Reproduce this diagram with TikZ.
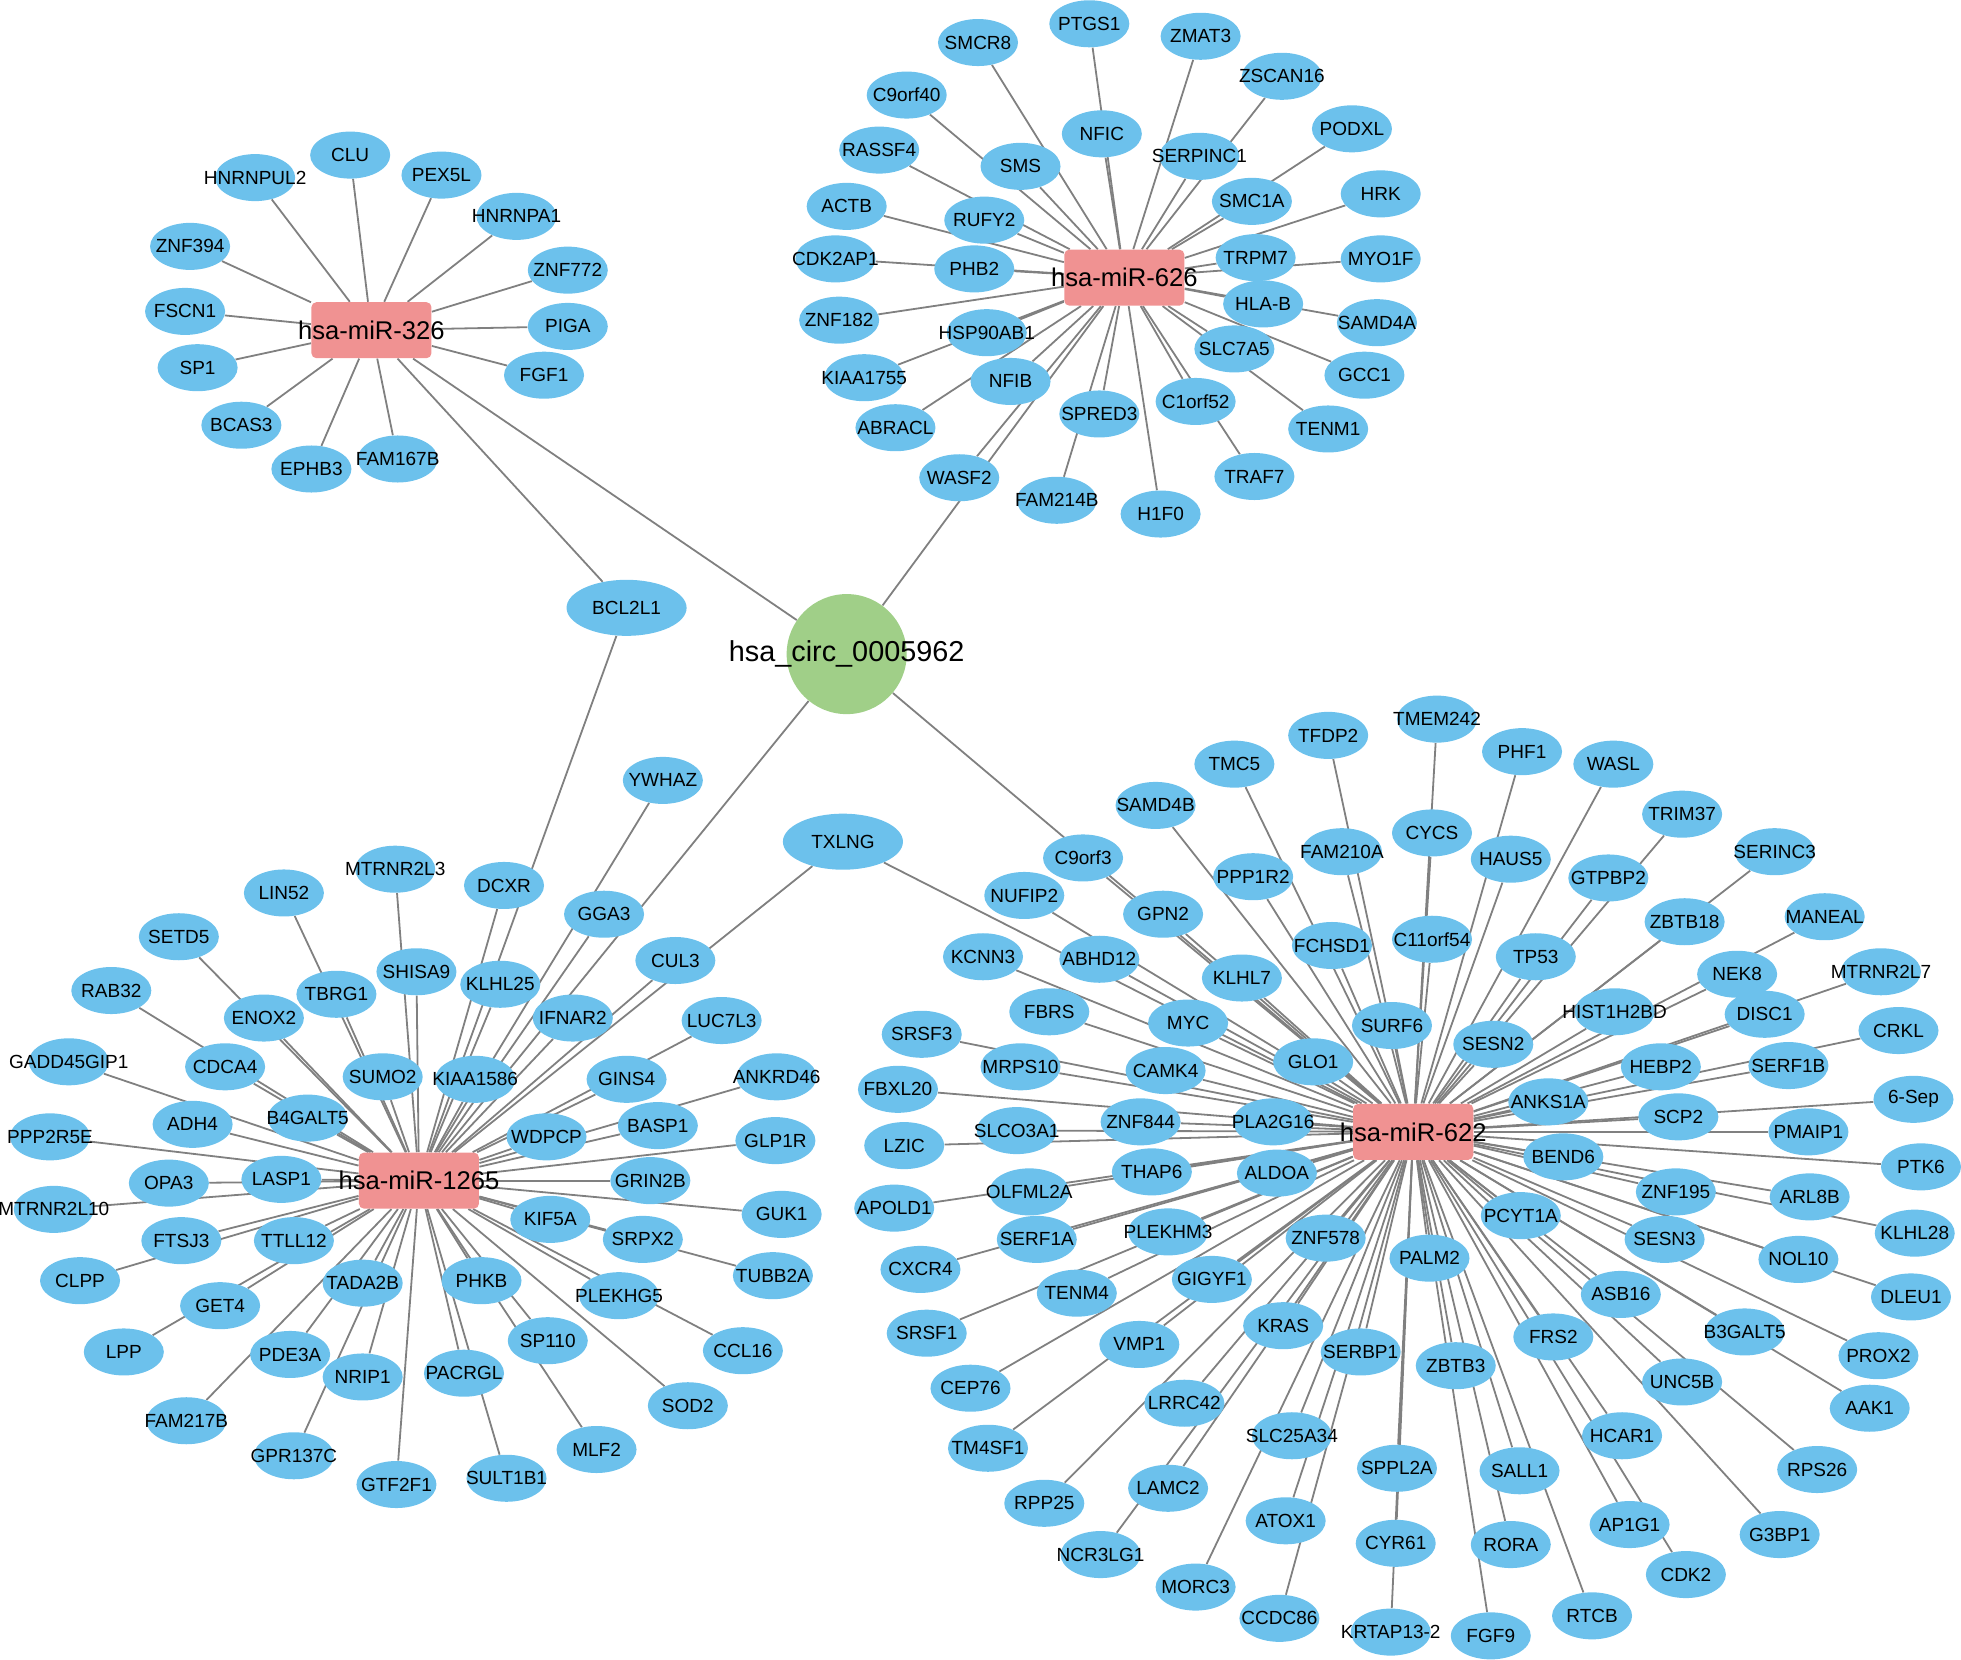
\documentclass[tikz,border=0pt]{standalone}
\usepackage{fontspec}
\setmainfont{Liberation Sans}
\usetikzlibrary{shapes.geometric,backgrounds}

\definecolor{genecol}{RGB}{108,193,236}
\definecolor{mircol}{RGB}{240,146,146}
\definecolor{circcol}{RGB}{160,207,136}
\definecolor{edgecol}{RGB}{128,128,128}

\tikzset{
  nowidth/.style={execute at begin node={\hbox to 0pt\bgroup\hss},
                  execute at end node={\hss\egroup}},
  gene/.style={ellipse,fill=genecol,inner sep=0pt,minimum width=40pt,
               minimum height=23.5pt,font=\fontsize{9.5}{11}\selectfont,nowidth},
  biggene/.style={gene,minimum width=60pt,minimum height=28pt},
  mirna/.style={rectangle,rounded corners=2.5pt,fill=mircol,inner sep=0pt,
                minimum width=60pt,minimum height=28pt,
                font=\fontsize{12.8}{14}\selectfont,nowidth},
  circrna/.style={circle,fill=circcol,inner sep=0pt,minimum size=60pt,
                  font=\fontsize{14.4}{16}\selectfont,nowidth},
  link/.style={draw=edgecol,line width=0.9pt}
}

\begin{document}
\begin{tikzpicture}[x=0.625pt,y=-0.625pt]

 \useasboundingbox (0,0) rectangle (1568,1327);

 \node[circrna] (circ) at (677,523) {hsa\_circ\_0005962};

 % hsa-miR-326
 \node[mirna] (m326) at (297,264) {hsa-miR-326};
 \node[gene] (CLU) at (280,124) {CLU};
 \node[gene] (HNRNPUL2) at (204,142) {HNRNPUL2};
 \node[gene] (PEX5L) at (353,140) {PEX5L};
 \node[gene] (HNRNPA1) at (413,173) {HNRNPA1};
 \node[gene] (ZNF394) at (152,197) {ZNF394};
 \node[gene] (ZNF772) at (454,216) {ZNF772};
 \node[gene] (FSCN1) at (148,249) {FSCN1};
 \node[gene] (PIGA) at (454,261) {PIGA};
 \node[gene] (SP1) at (158,294) {SP1};
 \node[gene] (FGF1) at (435,300) {FGF1};
 \node[gene] (BCAS3) at (193,340) {BCAS3};
 \node[gene] (EPHB3) at (249,375) {EPHB3};
 \node[gene] (FAM167B) at (318,367) {FAM167B};
 \node[biggene] (BCL2L1) at (501,486) {BCL2L1};

 % hsa-miR-626
 \node[mirna] (m626) at (899,222) {hsa-miR-626};
 \node[gene] (PTGS1) at (871,19) {PTGS1};
 \node[gene] (SMCR8) at (782,34) {SMCR8};
 \node[gene] (ZMAT3) at (960,29) {ZMAT3};
 \node[gene] (ZSCAN16) at (1025,61) {ZSCAN16};
 \node[gene] (C9orf40) at (725,76) {C9orf40};
 \node[gene] (PODXL) at (1081,103) {PODXL};
 \node[gene] (NFIC) at (881,107) {NFIC};
 \node[gene] (RASSF4) at (703,120) {RASSF4};
 \node[gene] (SMS) at (816,133) {SMS};
 \node[gene] (SERPINC1) at (959,125) {SERPINC1};
 \node[gene] (HRK) at (1104,155) {HRK};
 \node[gene] (SMC1A) at (1001,161) {SMC1A};
 \node[gene] (ACTB) at (677,165) {ACTB};
 \node[gene] (RUFY2) at (787,176) {RUFY2};
 \node[gene] (CDK2AP1) at (668,207) {CDK2AP1};
 \node[gene] (PHB2) at (779,215) {PHB2};
 \node[gene] (TRPM7) at (1004,206) {TRPM7};
 \node[gene] (MYO1F) at (1104,207) {MYO1F};
 \node[gene] (HLAB) at (1010,243) {HLA-B};
 \node[gene] (SAMD4A) at (1101,258) {SAMD4A};
 \node[gene] (ZNF182) at (671,256) {ZNF182};
 \node[gene] (HSP90AB1) at (789,266) {HSP90AB1};
 \node[gene] (SLC7A5) at (987,279) {SLC7A5};
 \node[gene] (GCC1) at (1091,300) {GCC1};
 \node[gene] (KIAA1755) at (691,302) {KIAA1755};
 \node[gene] (NFIB) at (808,305) {NFIB};
 \node[gene] (C1orf52) at (956,321) {C1orf52};
 \node[gene] (SPRED3) at (879,331) {SPRED3};
 \node[gene] (TENM1) at (1062,343) {TENM1};
 \node[gene] (ABRACL) at (716,342) {ABRACL};
 \node[gene] (TRAF7) at (1003,381) {TRAF7};
 \node[gene] (WASF2) at (767,382) {WASF2};
 \node[gene] (FAM214B) at (845,400) {FAM214B};
 \node[gene] (H1F0) at (928,411) {H1F0};

 % hsa-miR-1265
 \node[mirna] (m1265) at (335,944) {hsa-miR-1265};
 \node[gene] (LIN52) at (227,714) {LIN52};
 \node[gene] (MTRNR2L3) at (316,695) {MTRNR2L3};
 \node[gene] (SETD5) at (143,749) {SETD5};
 \node[gene] (SHISA9) at (333,777) {SHISA9};
 \node[gene] (RAB32) at (89,792) {RAB32};
 \node[gene] (TBRG1) at (269,795) {TBRG1};
 \node[gene] (ENOX2) at (211,814) {ENOX2};
 \node[gene] (GADD45GIP1) at (55,849) {GADD45GIP1};
 \node[gene] (CDCA4) at (180,853) {CDCA4};
 \node[gene] (SUMO2) at (306,861) {SUMO2};
 \node[gene] (ADH4) at (154,899) {ADH4};
 \node[gene] (B4GALT5) at (246,894) {B4GALT5};
 \node[gene] (PPP2R5E) at (40,909) {PPP2R5E};
 \node[gene] (OPA3) at (135,946) {OPA3};
 \node[gene] (LASP1) at (225,943) {LASP1};
 \node[gene] (MTRNR2L10) at (43,967) {MTRNR2L10};
 \node[gene] (FTSJ3) at (145,992) {FTSJ3};
 \node[gene] (TTLL12) at (235,992) {TTLL12};
 \node[gene] (CLPP) at (64,1024) {CLPP};
 \node[gene] (TADA2B) at (290,1026) {TADA2B};
 \node[gene] (GET4) at (176,1044) {GET4};
 \node[gene] (LPP) at (99,1081) {LPP};
 \node[gene] (PDE3A) at (232,1083) {PDE3A};
 \node[gene] (NRIP1) at (290,1101) {NRIP1};
 \node[gene] (PACRGL) at (371,1098) {PACRGL};
 \node[gene] (FAM217B) at (149,1136) {FAM217B};
 \node[gene] (GPR137C) at (235,1164) {GPR137C};
 \node[gene] (GTF2F1) at (317,1187) {GTF2F1};
 \node[gene] (DCXR) at (403,708) {DCXR};
 \node[gene] (GGA3) at (483,731) {GGA3};
 \node[gene] (CUL3) at (540,768) {CUL3};
 \node[gene] (KLHL25) at (400,787) {KLHL25};
 \node[gene] (IFNAR2) at (458,814) {IFNAR2};
 \node[gene] (LUC7L3) at (577,816) {LUC7L3};
 \node[gene] (KIAA1586) at (380,863) {KIAA1586};
 \node[gene] (GINS4) at (501,863) {GINS4};
 \node[gene] (ANKRD46) at (621,861) {ANKRD46};
 \node[gene] (WDPCP) at (437,909) {WDPCP};
 \node[gene] (BASP1) at (526,900) {BASP1};
 \node[gene] (GLP1R) at (620,912) {GLP1R};
 \node[gene] (GRIN2B) at (520,944) {GRIN2B};
 \node[gene] (KIF5A) at (440,975) {KIF5A};
 \node[gene] (GUK1) at (625,971) {GUK1};
 \node[gene] (SRPX2) at (514,991) {SRPX2};
 \node[gene] (TUBB2A) at (618,1020) {TUBB2A};
 \node[gene] (PHKB) at (385,1024) {PHKB};
 \node[gene] (PLEKHG5) at (495,1036) {PLEKHG5};
 \node[gene] (SP110) at (438,1072) {SP110};
 \node[gene] (CCL16) at (594,1080) {CCL16};
 \node[gene] (SOD2) at (550,1124) {SOD2};
 \node[gene] (MLF2) at (477,1159) {MLF2};
 \node[gene] (SULT1B1) at (405,1182) {SULT1B1};
 \node[gene] (YWHAZ) at (530,624) {YWHAZ};
 \node[biggene] (TXLNG) at (674,673) {TXLNG};

 % hsa-miR-622
 \node[mirna] (m622) at (1130,905) {hsa-miR-622};
 \node[gene] (TFDP2) at (1062,588) {TFDP2};
 \node[gene] (TMC5) at (987,611) {TMC5};
 \node[gene] (SAMD4B) at (924,644) {SAMD4B};
 \node[gene] (C9orf3) at (866,686) {C9orf3};
 \node[gene] (FAM210A) at (1073,681) {FAM210A};
 \node[gene] (PPP1R2) at (1002,701) {PPP1R2};
 \node[gene] (NUFIP2) at (819,716) {NUFIP2};
 \node[gene] (GPN2) at (930,731) {GPN2};
 \node[gene] (FCHSD1) at (1065,756) {FCHSD1};
 \node[gene] (KCNN3) at (786,765) {KCNN3};
 \node[gene] (ABHD12) at (879,767) {ABHD12};
 \node[gene] (KLHL7) at (993,782) {KLHL7};
 \node[gene] (FBRS) at (839,809) {FBRS};
 \node[gene] (MYC) at (950,818) {MYC};
 \node[gene] (SURF6) at (1113,820) {SURF6};
 \node[gene] (SRSF3) at (737,827) {SRSF3};
 \node[gene] (GLO1) at (1050,849) {GLO1};
 \node[gene] (MRPS10) at (816,853) {MRPS10};
 \node[gene] (CAMK4) at (932,856) {CAMK4};
 \node[gene] (FBXL20) at (718,871) {FBXL20};
 \node[gene] (ZNF844) at (912,897) {ZNF844};
 \node[gene] (PLA2G16) at (1018,897) {PLA2G16};
 \node[gene] (SLCO3A1) at (813,904) {SLCO3A1};
 \node[gene] (LZIC) at (723,916) {LZIC};
 \node[gene] (TMEM242) at (1149,575) {TMEM242};
 \node[gene] (PHF1) at (1217,601) {PHF1};
 \node[gene] (WASL) at (1290,611) {WASL};
 \node[gene] (TRIM37) at (1345,651) {TRIM37};
 \node[gene] (CYCS) at (1145,666) {CYCS};
 \node[gene] (HAUS5) at (1208,687) {HAUS5};
 \node[gene] (SERINC3) at (1419,681) {SERINC3};
 \node[gene] (GTPBP2) at (1286,702) {GTPBP2};
 \node[gene] (ZBTB18) at (1347,737) {ZBTB18};
 \node[gene] (MANEAL) at (1459,733) {MANEAL};
 \node[gene] (C11orf54) at (1145,751) {C11orf54};
 \node[gene] (TP53) at (1228,765) {TP53};
 \node[gene] (NEK8) at (1389,779) {NEK8};
 \node[gene] (MTRNR2L7) at (1504,777) {MTRNR2L7};
 \node[gene] (HIST1H2BD) at (1291,809) {HIST1H2BD};
 \node[gene] (DISC1) at (1411,811) {DISC1};
 \node[gene] (CRKL) at (1518,824) {CRKL};
 \node[gene] (SESN2) at (1194,835) {SESN2};
 \node[gene] (HEBP2) at (1328,853) {HEBP2};
 \node[gene] (SERF1B) at (1430,852) {SERF1B};
 \node[gene] (ANKS1A) at (1238,881) {ANKS1A};
 \node[gene] (Sep6) at (1530,879) {6-Sep};
 \node[gene] (SCP2) at (1342,893) {SCP2};
 \node[gene] (PMAIP1) at (1446,905) {PMAIP1};
 \node[gene] (PTK6) at (1536,933) {PTK6};
 \node[gene] (BEND6) at (1250,925) {BEND6};
 \node[gene] (ZNF195) at (1340,953) {ZNF195};
 \node[gene] (ARL8B) at (1447,957) {ARL8B};
 \node[gene] (PCYT1A) at (1216,972) {PCYT1A};
 \node[gene] (KLHL28) at (1531,986) {KLHL28};
 \node[gene] (SESN3) at (1331,991) {SESN3};
 \node[gene] (PALM2) at (1143,1006) {PALM2};
 \node[gene] (NOL10) at (1438,1007) {NOL10};
 \node[gene] (ASB16) at (1296,1035) {ASB16};
 \node[gene] (DLEU1) at (1528,1037) {DLEU1};
 \node[gene] (B3GALT5) at (1395,1065) {B3GALT5};
 \node[gene] (FRS2) at (1242,1069) {FRS2};
 \node[gene] (PROX2) at (1502,1084) {PROX2};
 \node[gene] (ZBTB3) at (1164,1092) {ZBTB3};
 \node[gene] (UNC5B) at (1345,1105) {UNC5B};
 \node[gene] (AAK1) at (1495,1126) {AAK1};
 \node[gene] (HCAR1) at (1297,1148) {HCAR1};
 \node[gene] (SALL1) at (1215,1176) {SALL1};
 \node[gene] (RPS26) at (1453,1175) {RPS26};
 \node[gene] (AP1G1) at (1303,1219) {AP1G1};
 \node[gene] (G3BP1) at (1423,1227) {G3BP1};
 \node[gene] (CYR61) at (1116,1234) {CYR61};
 \node[gene] (RORA) at (1208,1235) {RORA};
 \node[gene] (CDK2) at (1348,1259) {CDK2};
 \node[gene] (RTCB) at (1273,1292) {RTCB};
 \node[gene] (KRTAP132) at (1112,1305) {KRTAP13-2};
 \node[gene] (FGF9) at (1192,1308) {FGF9};
 \node[gene] (THAP6) at (921,937) {THAP6};
 \node[gene] (ALDOA) at (1021,938) {ALDOA};
 \node[gene] (OLFML2A) at (823,953) {OLFML2A};
 \node[gene] (APOLD1) at (715,966) {APOLD1};
 \node[gene] (PLEKHM3) at (934,985) {PLEKHM3};
 \node[gene] (ZNF578) at (1060,990) {ZNF578};
 \node[gene] (SERF1A) at (829,991) {SERF1A};
 \node[gene] (CXCR4) at (736,1015) {CXCR4};
 \node[gene] (GIGYF1) at (969,1023) {GIGYF1};
 \node[gene] (TENM4) at (861,1034) {TENM4};
 \node[gene] (KRAS) at (1026,1060) {KRAS};
 \node[gene] (SRSF1) at (741,1066) {SRSF1};
 \node[gene] (VMP1) at (911,1075) {VMP1};
 \node[gene] (SERBP1) at (1088,1081) {SERBP1};
 \node[gene] (CEP76) at (776,1110) {CEP76};
 \node[gene] (LRRC42) at (947,1122) {LRRC42};
 \node[gene] (SLC25A34) at (1033,1148) {SLC25A34};
 \node[gene] (TM4SF1) at (790,1158) {TM4SF1};
 \node[gene] (SPPL2A) at (1117,1174) {SPPL2A};
 \node[gene] (LAMC2) at (934,1190) {LAMC2};
 \node[gene] (RPP25) at (835,1202) {RPP25};
 \node[gene] (ATOX1) at (1028,1216) {ATOX1};
 \node[gene] (NCR3LG1) at (880,1243) {NCR3LG1};
 \node[gene] (MORC3) at (956,1269) {MORC3};
 \node[gene] (CCDC86) at (1023,1294) {CCDC86};

 \begin{scope}[on background layer]

  \draw[link] (circ) -- (m326);
  \draw[link] (circ) -- (m626);
  \draw[link] (circ) -- (m1265);
  \draw[link] (circ) -- (m622);

  \draw[link] (m326) -- (CLU);
  \draw[link] (m326) -- (HNRNPUL2);
  \draw[link] (m326) -- (PEX5L);
  \draw[link] (m326) -- (HNRNPA1);
  \draw[link] (m326) -- (ZNF394);
  \draw[link] (m326) -- (ZNF772);
  \draw[link] (m326) -- (FSCN1);
  \draw[link] (m326) -- (PIGA);
  \draw[link] (m326) -- (SP1);
  \draw[link] (m326) -- (FGF1);
  \draw[link] (m326) -- (BCAS3);
  \draw[link] (m326) -- (EPHB3);
  \draw[link] (m326) -- (FAM167B);
  \draw[link] (m326) -- (BCL2L1);

  \draw[link] (m626) -- (PTGS1);
  \draw[link] (m626) -- (SMCR8);
  \draw[link] (m626) -- (ZMAT3);
  \draw[link] (m626) -- (ZSCAN16);
  \draw[link] (m626) -- (C9orf40);
  \draw[link] (m626) -- (PODXL);
  \draw[link] (m626) -- (NFIC);
  \draw[link] (m626) -- (RASSF4);
  \draw[link] (m626) -- (SMS);
  \draw[link] (m626) -- (SERPINC1);
  \draw[link] (m626) -- (HRK);
  \draw[link] (m626) -- (SMC1A);
  \draw[link] (m626) -- (ACTB);
  \draw[link] (m626) -- (RUFY2);
  \draw[link] (m626) -- (CDK2AP1);
  \draw[link] (m626) -- (PHB2);
  \draw[link] (m626) -- (TRPM7);
  \draw[link] (m626) -- (MYO1F);
  \draw[link] (m626) -- (HLAB);
  \draw[link] (m626) -- (SAMD4A);
  \draw[link] (m626) -- (ZNF182);
  \draw[link] (m626) -- (HSP90AB1);
  \draw[link] (m626) -- (SLC7A5);
  \draw[link] (m626) -- (GCC1);
  \draw[link] (m626) -- (KIAA1755);
  \draw[link] (m626) -- (NFIB);
  \draw[link] (m626) -- (C1orf52);
  \draw[link] (m626) -- (SPRED3);
  \draw[link] (m626) -- (TENM1);
  \draw[link] (m626) -- (ABRACL);
  \draw[link] (m626) -- (TRAF7);
  \draw[link] (m626) -- (WASF2);
  \draw[link] (m626) -- (FAM214B);
  \draw[link] (m626) -- (H1F0);

  \draw[link] (m1265) -- (BCL2L1);
  \draw[link] (m1265) -- (YWHAZ);
  \draw[link] (m1265) -- (TXLNG);
  \draw[link] (m1265) -- (LIN52);
  \draw[link] (m1265) -- (MTRNR2L3);
  \draw[link] (m1265) -- (SETD5);
  \draw[link] (m1265) -- (SHISA9);
  \draw[link] (m1265) -- (RAB32);
  \draw[link] (m1265) -- (TBRG1);
  \draw[link] (m1265) -- (ENOX2);
  \draw[link] (m1265) -- (GADD45GIP1);
  \draw[link] (m1265) -- (CDCA4);
  \draw[link] (m1265) -- (SUMO2);
  \draw[link] (m1265) -- (ADH4);
  \draw[link] (m1265) -- (B4GALT5);
  \draw[link] (m1265) -- (PPP2R5E);
  \draw[link] (m1265) -- (OPA3);
  \draw[link] (m1265) -- (LASP1);
  \draw[link] (m1265) -- (MTRNR2L10);
  \draw[link] (m1265) -- (FTSJ3);
  \draw[link] (m1265) -- (TTLL12);
  \draw[link] (m1265) -- (CLPP);
  \draw[link] (m1265) -- (TADA2B);
  \draw[link] (m1265) -- (GET4);
  \draw[link] (m1265) -- (LPP);
  \draw[link] (m1265) -- (PDE3A);
  \draw[link] (m1265) -- (NRIP1);
  \draw[link] (m1265) -- (PACRGL);
  \draw[link] (m1265) -- (FAM217B);
  \draw[link] (m1265) -- (GPR137C);
  \draw[link] (m1265) -- (GTF2F1);
  \draw[link] (m1265) -- (DCXR);
  \draw[link] (m1265) -- (GGA3);
  \draw[link] (m1265) -- (CUL3);
  \draw[link] (m1265) -- (KLHL25);
  \draw[link] (m1265) -- (IFNAR2);
  \draw[link] (m1265) -- (LUC7L3);
  \draw[link] (m1265) -- (KIAA1586);
  \draw[link] (m1265) -- (GINS4);
  \draw[link] (m1265) -- (ANKRD46);
  \draw[link] (m1265) -- (WDPCP);
  \draw[link] (m1265) -- (BASP1);
  \draw[link] (m1265) -- (GLP1R);
  \draw[link] (m1265) -- (GRIN2B);
  \draw[link] (m1265) -- (KIF5A);
  \draw[link] (m1265) -- (GUK1);
  \draw[link] (m1265) -- (SRPX2);
  \draw[link] (m1265) -- (TUBB2A);
  \draw[link] (m1265) -- (PHKB);
  \draw[link] (m1265) -- (PLEKHG5);
  \draw[link] (m1265) -- (SP110);
  \draw[link] (m1265) -- (CCL16);
  \draw[link] (m1265) -- (SOD2);
  \draw[link] (m1265) -- (MLF2);
  \draw[link] (m1265) -- (SULT1B1);

  \draw[link] (m622) -- (TXLNG);
  \draw[link] (m622) -- (TFDP2);
  \draw[link] (m622) -- (TMC5);
  \draw[link] (m622) -- (SAMD4B);
  \draw[link] (m622) -- (C9orf3);
  \draw[link] (m622) -- (FAM210A);
  \draw[link] (m622) -- (PPP1R2);
  \draw[link] (m622) -- (NUFIP2);
  \draw[link] (m622) -- (GPN2);
  \draw[link] (m622) -- (FCHSD1);
  \draw[link] (m622) -- (KCNN3);
  \draw[link] (m622) -- (ABHD12);
  \draw[link] (m622) -- (KLHL7);
  \draw[link] (m622) -- (FBRS);
  \draw[link] (m622) -- (MYC);
  \draw[link] (m622) -- (SURF6);
  \draw[link] (m622) -- (SRSF3);
  \draw[link] (m622) -- (GLO1);
  \draw[link] (m622) -- (MRPS10);
  \draw[link] (m622) -- (CAMK4);
  \draw[link] (m622) -- (FBXL20);
  \draw[link] (m622) -- (ZNF844);
  \draw[link] (m622) -- (PLA2G16);
  \draw[link] (m622) -- (SLCO3A1);
  \draw[link] (m622) -- (LZIC);
  \draw[link] (m622) -- (TMEM242);
  \draw[link] (m622) -- (PHF1);
  \draw[link] (m622) -- (WASL);
  \draw[link] (m622) -- (TRIM37);
  \draw[link] (m622) -- (CYCS);
  \draw[link] (m622) -- (HAUS5);
  \draw[link] (m622) -- (SERINC3);
  \draw[link] (m622) -- (GTPBP2);
  \draw[link] (m622) -- (ZBTB18);
  \draw[link] (m622) -- (MANEAL);
  \draw[link] (m622) -- (C11orf54);
  \draw[link] (m622) -- (TP53);
  \draw[link] (m622) -- (NEK8);
  \draw[link] (m622) -- (MTRNR2L7);
  \draw[link] (m622) -- (HIST1H2BD);
  \draw[link] (m622) -- (DISC1);
  \draw[link] (m622) -- (CRKL);
  \draw[link] (m622) -- (SESN2);
  \draw[link] (m622) -- (HEBP2);
  \draw[link] (m622) -- (SERF1B);
  \draw[link] (m622) -- (ANKS1A);
  \draw[link] (m622) -- (Sep6);
  \draw[link] (m622) -- (SCP2);
  \draw[link] (m622) -- (PMAIP1);
  \draw[link] (m622) -- (PTK6);
  \draw[link] (m622) -- (BEND6);
  \draw[link] (m622) -- (ZNF195);
  \draw[link] (m622) -- (ARL8B);
  \draw[link] (m622) -- (PCYT1A);
  \draw[link] (m622) -- (KLHL28);
  \draw[link] (m622) -- (SESN3);
  \draw[link] (m622) -- (PALM2);
  \draw[link] (m622) -- (NOL10);
  \draw[link] (m622) -- (ASB16);
  \draw[link] (m622) -- (DLEU1);
  \draw[link] (m622) -- (B3GALT5);
  \draw[link] (m622) -- (FRS2);
  \draw[link] (m622) -- (PROX2);
  \draw[link] (m622) -- (ZBTB3);
  \draw[link] (m622) -- (UNC5B);
  \draw[link] (m622) -- (AAK1);
  \draw[link] (m622) -- (HCAR1);
  \draw[link] (m622) -- (SALL1);
  \draw[link] (m622) -- (RPS26);
  \draw[link] (m622) -- (AP1G1);
  \draw[link] (m622) -- (G3BP1);
  \draw[link] (m622) -- (CYR61);
  \draw[link] (m622) -- (RORA);
  \draw[link] (m622) -- (CDK2);
  \draw[link] (m622) -- (RTCB);
  \draw[link] (m622) -- (KRTAP132);
  \draw[link] (m622) -- (FGF9);
  \draw[link] (m622) -- (THAP6);
  \draw[link] (m622) -- (ALDOA);
  \draw[link] (m622) -- (OLFML2A);
  \draw[link] (m622) -- (APOLD1);
  \draw[link] (m622) -- (PLEKHM3);
  \draw[link] (m622) -- (ZNF578);
  \draw[link] (m622) -- (SERF1A);
  \draw[link] (m622) -- (CXCR4);
  \draw[link] (m622) -- (GIGYF1);
  \draw[link] (m622) -- (TENM4);
  \draw[link] (m622) -- (KRAS);
  \draw[link] (m622) -- (SRSF1);
  \draw[link] (m622) -- (VMP1);
  \draw[link] (m622) -- (SERBP1);
  \draw[link] (m622) -- (CEP76);
  \draw[link] (m622) -- (LRRC42);
  \draw[link] (m622) -- (SLC25A34);
  \draw[link] (m622) -- (TM4SF1);
  \draw[link] (m622) -- (SPPL2A);
  \draw[link] (m622) -- (LAMC2);
  \draw[link] (m622) -- (RPP25);
  \draw[link] (m622) -- (ATOX1);
  \draw[link] (m622) -- (NCR3LG1);
  \draw[link] (m622) -- (MORC3);
  \draw[link] (m622) -- (CCDC86);

 \end{scope}

\end{tikzpicture}
\end{document}
